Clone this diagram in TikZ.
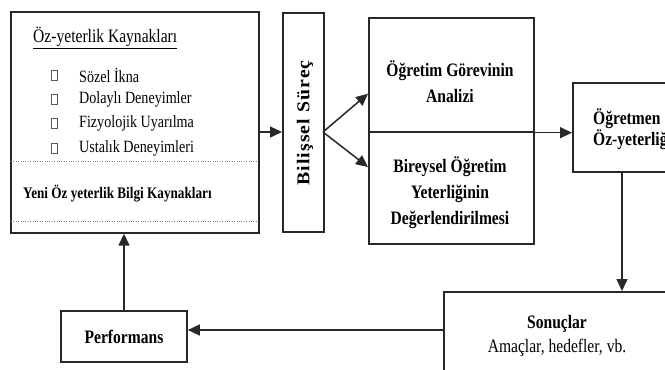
\documentclass[tikz,border=0pt]{standalone}
\usepackage{fontspec}
\setmainfont[FakeStretch=0.82]{Liberation Serif}
\newfontfamily\rotfont[FakeStretch=1.1,LetterSpace=6]{Liberation Serif}
\usetikzlibrary{arrows.meta,positioning,calc}
\definecolor{linegr}{RGB}{40,40,40}
\definecolor{sqgr}{RGB}{90,90,90}

\begin{document}
\begin{tikzpicture}[x=1pt,y=-1pt,
    every node/.style={font=\fontsize{19}{26}\selectfont,inner sep=0pt},
    box/.style={draw=linegr,line width=1.7pt},
    bold/.style={font=\fontsize{19}{26}\selectfont\bfseries},
    sqr/.style={draw=sqgr,line width=0.5pt,minimum width=6pt,minimum height=10pt},
    flow/.style={draw=linegr,line width=1.5pt,-{Triangle[length=12pt,width=11pt]}}]

    \useasboundingbox (0,0) rectangle (665,370);
    \clip (0,0) rectangle (665,370);

    % Sources box (left)
    \node[box,minimum width=248pt,minimum height=221pt,anchor=north west] (src) at (10,11) {};
    \node[anchor=west] (srctitle) at (33,38) {\underline{Öz-yeterlik Kaynakları}};
    \foreach \y/\txt [count=\i] in {75/Sözel İkna,99/Dolaylı Deneyimler,
        123/Fizyolojik Uyarılma,148/Ustalık Deneyimleri} {
      \node[sqr] (sq\i) at (54,\y) {};
      \node[anchor=west,font=\fontsize{17.2}{20}\selectfont] (it\i) at (79,\y) {\txt};
    }
    \draw[dotted,gray,thin] (11,161) -- (257,161);
    \draw[dotted,gray,thin] (11,221) -- (257,221);
    \node[anchor=west,font=\fontsize{16.1}{18}\selectfont\bfseries] (yeni) at (23,194)
      {Yeni Öz yeterlik Bilgi Kaynakları};

    % Cognitive process
    \node[box,minimum width=41pt,minimum height=219pt,anchor=north west] (bil) at (282,12) {};
    \node[rotate=90,font=\rotfont\bfseries\fontsize{18}{20}\selectfont] (biltxt) at (305,123)
      {Bilişsel Süreç};

    % Analysis boxes
    \node[box,minimum width=165pt,minimum height=114pt,anchor=north west] (ogr) at (368,17) {};
    \node[box,minimum width=165pt,minimum height=112pt,anchor=north west] (bir) at (368,131) {};
    \node[bold,align=center] (ogrtxt) at (450,82) {Öğretim Görevinin\\Analizi};
    \node[bold,align=center] (birtxt) at (450,193)
      {Bireysel Öğretim\\Yeterliğinin\\Değerlendirilmesi};

    % Teacher self-efficacy (cut at the right edge)
    \node[box,minimum width=140pt,minimum height=89pt,anchor=north west] (ogm) at (572,82) {};
    \node[anchor=west,align=left,font=\fontsize{19}{21}\selectfont\bfseries] (ogmtxt) at (593,129)
      {Öğretmen\\Öz-yeterliği};

    % Results
    \node[box,minimum width=260pt,minimum height=110pt,anchor=north west] (son) at (443,291) {};
    \node[align=center,font=\fontsize{19}{24}\selectfont] (sontxt) at (557,336)
      {\textbf{Sonuçlar}\\Amaçlar, hedefler, vb.};

    % Performance
    \node[box,bold,minimum width=126pt,minimum height=51pt] (perf) at (124,336.5) {Performans};

    % Arrows
    \coordinate (fork) at (323,132);
    \coordinate (drop) at (622,171);
    \coordinate (back) at (443,330);
    \draw[flow] (src.east |- fork) -- (bil.west |- fork);
    \draw[flow] (fork) -- ($(ogr.south west)+(0,-39)$);
    \draw[flow] (fork) -- ($(bir.north west)+(0,36)$);
    \draw[flow] (ogr.south west) -- (ogr.south west -| ogm.west);
    \draw[flow] (ogm.south -| drop) -- (son.north -| drop);
    \draw[flow] (son.west |- back) -- (perf.east |- back);
    \draw[flow] (perf.north) -- (perf.north |- src.south);

\end{tikzpicture}
\end{document}
